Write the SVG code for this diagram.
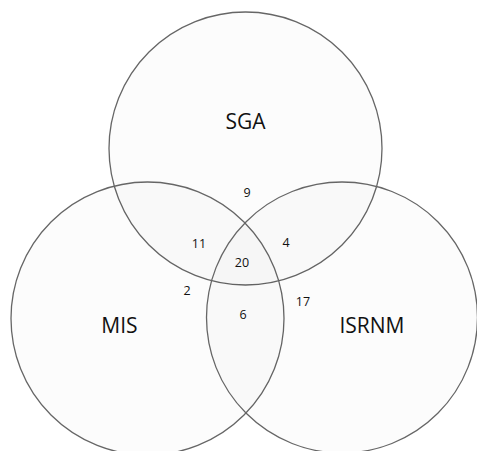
<svg xmlns="http://www.w3.org/2000/svg" width="477" height="451" viewBox="0 0 477 451">
<style>
.c{fill:#000;fill-opacity:0.012;stroke:#666;stroke-width:1.3}
.lbl{font-family:"Open Sans","Liberation Sans",sans-serif;font-size:21px;fill:#111;text-anchor:middle}
.num{font-family:"Open Sans","Liberation Sans",sans-serif;font-size:12.5px;fill:#111;text-anchor:middle}
</style>
<rect width="477" height="451" fill="#fff"/>
<g id="SGA"><circle class="c" cx="245.5" cy="148.5" r="136.5"/><text class="lbl" x="245.5" y="128.5">SGA</text></g>
<g id="MIS"><circle class="c" cx="147.5" cy="318.5" r="136.5"/><text class="lbl" x="119.5" y="333">MIS</text></g>
<g id="ISRNM"><circle class="c" cx="342" cy="317.5" r="135.5"/><text class="lbl" x="372" y="333">ISRNM</text></g>
<g id="counts">
<text class="num" x="247" y="197">9</text>
<text class="num" x="199" y="248">11</text>
<text class="num" x="286" y="247">4</text>
<text class="num" x="242" y="267">20</text>
<text class="num" x="187" y="295">2</text>
<text class="num" x="243" y="319">6</text>
<text class="num" x="303" y="306">17</text>
</g>
<g id="connectors"/>
</svg>
